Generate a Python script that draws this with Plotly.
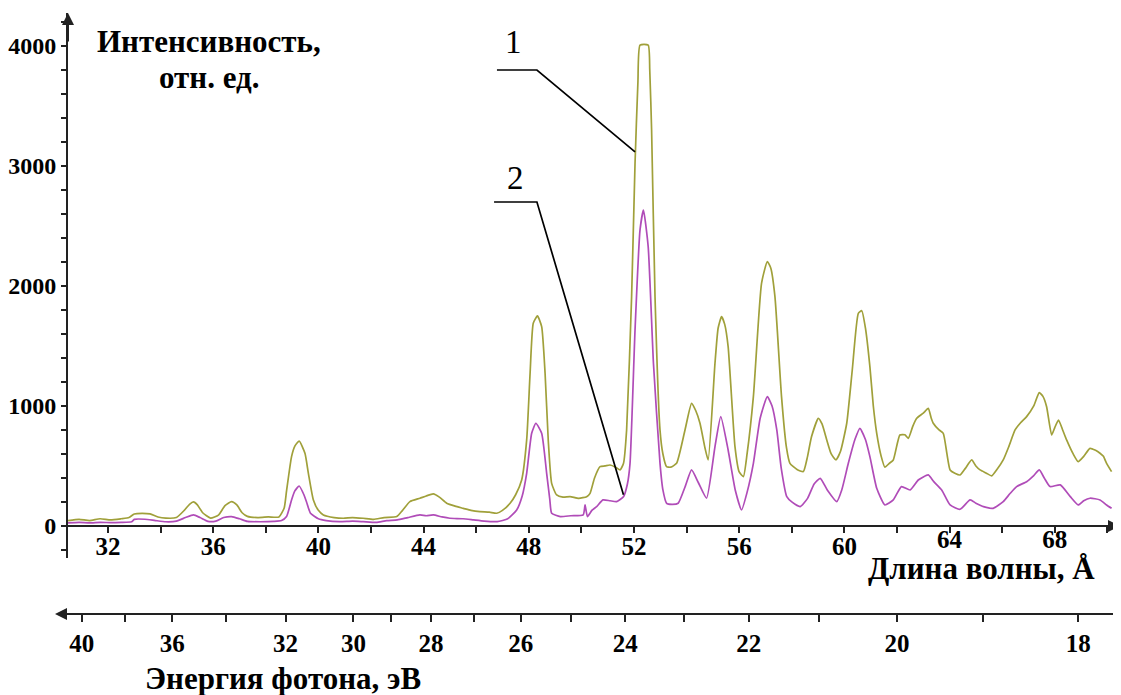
import plotly.graph_objects as go

# ---------------- data ----------------
lam1 = [30.48, 30.9, 31.3, 31.7, 32.1, 32.5, 32.8, 33.0, 33.3, 33.6, 33.9, 34.2, 34.6, 34.9, 35.1, 35.25, 35.4, 35.6,
        35.9, 36.2, 36.45, 36.7, 36.9, 37.1, 37.3, 37.7, 38.1, 38.5, 38.7, 38.79, 38.98, 39.11, 39.27, 39.49, 39.62,
        39.81, 40.0, 40.19, 40.6, 40.95, 41.3, 41.7, 42.1, 42.5, 42.98, 43.2, 43.48, 43.86, 44.1, 44.37, 44.6, 44.88,
        45.2, 45.51, 45.8, 46.14, 46.5, 46.78, 47.0, 47.29, 47.5, 47.73, 47.92, 48.05, 48.17, 48.33, 48.49, 48.62,
        48.74, 48.87, 49.06, 49.3, 49.57, 49.9, 50.2, 50.33, 50.5, 50.71, 50.9, 51.09, 51.3, 51.47, 51.6, 51.72, 51.91,
        52.04, 52.15, 52.23, 52.54, 52.6, 52.67, 52.8, 52.99, 53.1, 53.24, 53.4, 53.62, 53.94, 54.19, 54.35, 54.51,
        54.7, 54.82, 55.08, 55.2, 55.33, 55.45, 55.58, 55.84, 56.0, 56.16, 56.3, 56.54, 56.85, 57.07, 57.2, 57.36,
        57.61, 57.8, 57.93, 58.2, 58.44, 58.6, 58.75, 59.01, 59.15, 59.33, 59.5, 59.68, 59.85, 60.09, 60.3, 60.53,
        60.66, 60.8, 60.97, 61.1, 61.23, 61.4, 61.54, 61.7, 61.86, 62.11, 62.3, 62.43, 62.6, 62.75, 63.0, 63.19, 63.3,
        63.38, 63.6, 63.76, 63.9, 64.02, 64.2, 64.4, 64.6, 64.84, 65.0, 65.16, 65.4, 65.6, 65.8, 66.04, 66.25, 66.49,
        66.7, 66.93, 67.2, 67.41, 67.55, 67.69, 67.88, 68.0, 68.14, 68.3, 68.45, 68.7, 68.89, 69.1, 69.34, 69.55,
        69.72, 69.85, 69.97, 70.16]
int1 = [45, 55, 45, 60, 50, 60, 70, 100, 105, 100, 75, 65, 70, 130, 180, 200, 175, 110,
        65, 90, 170, 203, 175, 110, 80, 70, 75, 75, 150, 292, 578, 667, 708, 605, 439,
        217, 130, 92, 70, 64, 70, 64, 55, 70, 78, 130, 203, 231, 250, 267, 240, 189,
        165, 147, 130, 119, 115, 106, 130, 189, 260, 383, 717, 1272, 1689, 1750, 1661, 1272,
        717, 355, 258, 240, 244, 230, 244, 272, 400, 494, 500, 508, 490, 467, 520, 800, 1911,
        3022, 3700, 4008, 4008, 3800, 3300, 1911, 800, 600, 494, 490, 522, 800, 1022, 960, 856,
        650, 550, 1356, 1650, 1744, 1680, 1494, 661, 450, 411, 600, 1078, 2022, 2203, 2150, 1911,
        1078, 650, 522, 470, 453, 580, 744, 897, 850, 717, 600, 550, 620, 856, 1300, 1772,
        1794, 1650, 1328, 1000, 772, 580, 489, 520, 550, 758, 760, 730, 830, 897, 940, 980, 900,
        856, 800, 772, 600, 467, 440, 425, 480, 550, 500, 467, 440, 417, 470, 550, 660, 800,
        860, 911, 1000, 1111, 1080, 994, 758, 820, 883, 800, 717, 600, 536, 580, 647, 630,
        606, 580, 522, 453]

lam2 = [30.48, 30.9, 31.3, 31.7, 32.1, 32.5, 32.9, 33.0, 33.4, 33.8, 34.2, 34.6, 34.95, 35.25, 35.5, 35.8, 36.1, 36.4,
        36.7, 37.0, 37.3, 37.8, 38.3, 38.6, 38.79, 38.98, 39.1, 39.27, 39.45, 39.55, 39.7, 40.0, 40.3, 40.8, 41.3,
        41.7, 42.2, 42.6, 43.0, 43.4, 43.86, 44.1, 44.37, 44.7, 45.0, 45.5, 45.9, 46.3, 46.8, 47.2, 47.54, 47.75,
        47.92, 48.11, 48.27, 48.49, 48.68, 48.8, 48.87, 49.2, 49.6, 50.07, 50.14, 50.23, 50.4, 50.58, 50.82, 51.09,
        51.34, 51.6, 51.75, 51.85, 52.04, 52.23, 52.36, 52.54, 52.74, 52.99, 53.1, 53.24, 53.45, 53.68, 53.95, 54.19,
        54.45, 54.76, 55.08, 55.3, 55.58, 55.85, 56.09, 56.3, 56.54, 56.8, 57.07, 57.25, 57.43, 57.6, 57.81, 58.0,
        58.32, 58.6, 58.85, 59.08, 59.35, 59.71, 59.9, 60.15, 60.4, 60.59, 60.8, 60.97, 61.23, 61.54, 61.86, 62.17,
        62.5, 62.81, 63.19, 63.4, 63.7, 64.02, 64.4, 64.78, 65.0, 65.29, 65.66, 66.04, 66.3, 66.55, 66.93, 67.2,
        67.41, 67.6, 67.82, 68.21, 68.59, 68.89, 69.1, 69.34, 69.72, 69.97, 70.16]
int2 = [25, 30, 25, 30, 28, 30, 35, 55, 56, 45, 35, 40, 70, 92, 70, 38, 40, 70,
        78, 60, 38, 35, 38, 45, 78, 217, 290, 333, 260, 200, 106, 60, 45, 36, 40,
        36, 30, 45, 50, 70, 92, 85, 92, 75, 64, 60, 50, 40, 36, 60, 133, 250,
        439, 772, 856, 772, 439, 220, 106, 78, 85, 92, 175, 78, 130, 161, 217, 210,
        203, 244, 350, 522, 1633, 2467, 2633, 2328, 1356, 522, 300, 189, 180, 189, 330, 467,
        360, 231, 661, 911, 633, 300, 133, 280, 522, 900, 1078, 1000, 800, 480, 244, 200,
        161, 230, 350, 397, 300, 203, 300, 522, 720, 814, 720, 578, 314, 175, 217, 328,
        300, 383, 425, 369, 300, 175, 139, 217, 190, 161, 147, 203, 270, 328, 369, 420,
        467, 400, 328, 342, 244, 175, 210, 231, 217, 175, 147]

# wavelength axis ticks
lam_ticks = [32, 36, 40, 44, 48, 52, 56, 60, 64, 68]
lam_ticks_raised = [64, 68]          # labels lifted to leave room for the axis title
# energy axis ticks (eV), placed at lambda = 1240 / E
energy_major = [40, 36, 32, 30, 28, 26, 24, 22, 20, 18]
energy_minor = [38, 34, 29, 27, 25, 23, 21, 19]
int_ticks = [0, 1000, 2000, 3000, 4000]

# callout leader lines (label, text position, polyline)
callout1_text = (47.4, 4030)
callout1_x = [46.79, 48.31, 52.04]
callout1_y = [3800, 3800, 3117]
callout2_text = (47.5, 2900)
callout2_x = [46.68, 48.31, 51.6]
callout2_y = [2700, 2700, 260]

# ---------------- figure ----------------
# the page body adds an 8 px offset; the figure is sized so the screenshot matches the target
OFF = 8
W, H = 1121 - OFF, 695 - OFF
ML, MR, MT, MB = 68 - OFF, 1, 13 - OFF, 81
PW = W - ML - MR          # 1052
PH = H - MT - MB          # 601
X_RANGE = [30.48, 70.48]
Y_RANGE = [-267, 4275]
Y_DOM0 = 0.0932
XAX_POS = 0.1464


def paper_x(px):          # screen pixel -> paper fraction
    return (px - OFF - ML) / PW


def paper_y(py):
    return (H - MB - (py - OFF)) / PH


FONT = "Liberation Serif"
OLIVE = "#a0a03a"
MAGENTA = "#b04cb8"
AX = "#222"
CLEAR = "rgba(0,0,0,0)"

fig = go.Figure()
fig.add_trace(go.Scatter(x=lam1, y=int1, mode="lines",
                         line=dict(color=OLIVE, width=1.7, shape="spline", smoothing=0.5),
                         showlegend=False, hoverinfo="skip"))
fig.add_trace(go.Scatter(x=lam2, y=int2, mode="lines",
                         line=dict(color=MAGENTA, width=1.7, shape="spline", smoothing=0.5),
                         showlegend=False, hoverinfo="skip"))
for cx, cy in ((callout1_x, callout1_y), (callout2_x, callout2_y)):
    fig.add_trace(go.Scatter(x=cx, y=cy, mode="lines", line=dict(color="black", width=1.7),
                             showlegend=False, hoverinfo="skip"))

# invisible traces to activate the extra axes
for xa in ("x2", "x3", "x4"):
    fig.add_trace(go.Scatter(x=[X_RANGE[0]], y=[0], xaxis=xa, mode="markers",
                             marker=dict(opacity=0), showlegend=False, hoverinfo="skip"))

xtickfont = dict(family=FONT, size=25, color="black", weight="bold")
ytickfont = dict(family=FONT, size=24, color="black", weight="bold")

label_axis = dict(range=X_RANGE, overlaying="x", anchor="free", side="bottom",
                  showgrid=False, zeroline=False, showline=False, tickmode="array",
                  ticks="outside", ticklen=6, tickcolor=CLEAR, tickfont=xtickfont, automargin=False)

fig.update_layout(
    width=W, height=H,
    margin=dict(l=ML, r=MR, t=MT, b=MB, autoexpand=False),
    paper_bgcolor="white", plot_bgcolor="white",
    # wavelength axis: line and ticks
    xaxis=dict(range=X_RANGE, domain=[0, 1], anchor="free", position=XAX_POS,
               showgrid=False, zeroline=False, showline=True, linecolor=AX, linewidth=2,
               tickmode="array", tickvals=lam_ticks, showticklabels=False,
               ticks="outside", ticklen=6, tickwidth=1.5, tickcolor=AX,
               minor=dict(dtick=2, tick0=0, ticks="outside", ticklen=6, tickwidth=1.5, tickcolor=AX),
               automargin=False),
    # wavelength axis: tick labels
    xaxis3=dict(label_axis, position=XAX_POS + 8 / PH,
                tickvals=[t for t in lam_ticks if t not in lam_ticks_raised],
                ticktext=[str(t) for t in lam_ticks if t not in lam_ticks_raised]),
    xaxis4=dict(label_axis, position=XAX_POS + 15 / PH,
                tickvals=lam_ticks_raised, ticktext=[str(t) for t in lam_ticks_raised]),
    # energy axis
    xaxis2=dict(range=X_RANGE, overlaying="x", anchor="free", position=0, side="bottom",
                showgrid=False, zeroline=False, showline=True, linecolor=AX, linewidth=2,
                tickmode="array", tickvals=[1240.0 / e for e in energy_major],
                ticktext=[str(e) for e in energy_major],
                ticks="outside", ticklen=7, tickwidth=1.5, tickcolor=AX, tickfont=xtickfont,
                minor=dict(tickmode="array", tickvals=[1240.0 / e for e in energy_minor],
                           ticks="outside", ticklen=7, tickwidth=1.5, tickcolor=AX),
                automargin=False),
    yaxis=dict(range=Y_RANGE, domain=[Y_DOM0, 1],
               showgrid=False, zeroline=False, showline=True, linecolor=AX, linewidth=2,
               tickmode="array", tickvals=int_ticks, ticks="outside", ticklen=5, tickwidth=1.5,
               tickcolor=AX, tickfont=ytickfont,
               minor=dict(dtick=200, tick0=0, ticks="outside", ticklen=5, tickwidth=1.5, tickcolor=AX),
               automargin=False),
)

titlefont = dict(family=FONT, size=31, color="black", weight="bold")
ann = []
# axis titles
ann.append(dict(text="Интенсивность,", xref="paper", yref="paper", x=paper_x(209), y=paper_y(42),
                xanchor="center", yanchor="middle", showarrow=False, font=titlefont))
ann.append(dict(text="отн. ед.", xref="paper", yref="paper", x=paper_x(209), y=paper_y(77),
                xanchor="center", yanchor="middle", showarrow=False, font=titlefont))
ann.append(dict(text="Длина волны, Å", xref="paper", yref="paper", x=paper_x(1097), y=paper_y(568),
                xanchor="right", yanchor="middle", showarrow=False, font=titlefont))
ann.append(dict(text="Энергия фотона, эВ", xref="paper", yref="paper", x=paper_x(283), y=paper_y(678),
                xanchor="center", yanchor="middle", showarrow=False, font=titlefont))
# curve labels
ann.append(dict(text="1", x=callout1_text[0], y=callout1_text[1], xref="x", yref="y",
                xanchor="center", yanchor="middle",
                showarrow=False, font=dict(family=FONT, size=33, color="black")))
ann.append(dict(text="2", x=callout2_text[0], y=callout2_text[1], xref="x", yref="y",
                xanchor="center", yanchor="middle",
                showarrow=False, font=dict(family=FONT, size=33, color="black")))
# axis arrows
ann.append(dict(text="", xref="paper", yref="paper", x=0, y=1, ax=0, ay=30,
                showarrow=True, arrowhead=2, arrowsize=1.2, arrowwidth=2, arrowcolor=AX))
ann.append(dict(text="", xref="paper", yref="y", x=1, y=0, ax=-30, ay=0,
                showarrow=True, arrowhead=2, arrowsize=1.2, arrowwidth=2, arrowcolor=AX))
ann.append(dict(text="", xref="paper", yref="paper", x=paper_x(55), y=0, ax=40, ay=0,
                showarrow=True, arrowhead=2, arrowsize=1.2, arrowwidth=2, arrowcolor=AX))
fig.update_layout(annotations=ann)

fig.write_html("out.html")
